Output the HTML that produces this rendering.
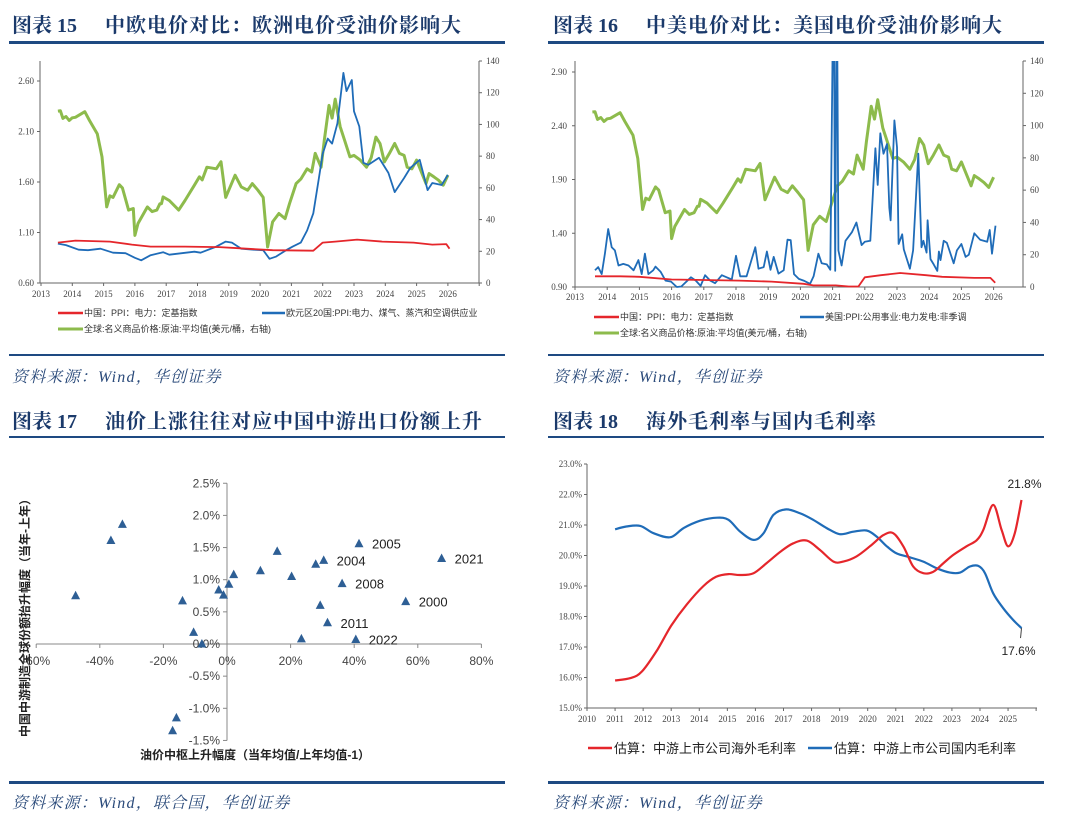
<!DOCTYPE html>
<html><head><meta charset="utf-8">
<style>
html,body{margin:0;padding:0;background:#fff;}
svg{display:block;}
.hdr{font-family:"Liberation Serif","Noto Serif CJK SC",serif;font-weight:bold;font-size:20px;fill:#1b3a6b;}
.hdt{font-family:"Liberation Serif","Noto Serif CJK SC",serif;font-weight:bold;font-size:20px;letter-spacing:1px;fill:#1b3a6b;}
.src{font-family:"Liberation Serif","Noto Serif CJK SC",serif;font-style:italic;font-size:16px;letter-spacing:1.2px;fill:#2a4a7a;}
.tk{font-family:"Liberation Serif","Noto Serif CJK SC",serif;font-size:9px;fill:#444;}
.lg{font-family:"Liberation Sans","Noto Sans CJK SC",sans-serif;font-size:9px;fill:#333;}
.tk17{font-family:"Liberation Sans","Noto Sans CJK SC",sans-serif;font-size:12px;fill:#444;}
.lg18{font-family:"Liberation Sans","Noto Sans CJK SC",sans-serif;font-size:13px;fill:#222;}
</style></head>
<body>
<svg id="root" width="1080" height="829" viewBox="0 0 1080 829" xmlns="http://www.w3.org/2000/svg">
<defs>
<clipPath id="clip16"><rect x="575" y="61" width="448" height="230"/></clipPath>
</defs>
<!-- headers -->
<g><text class="hdr" x="12" y="32">图表 15</text><text class="hdt" x="105" y="32">中欧电价对比：欧洲电价受油价影响大</text></g>
<rect x="9" y="41" width="496" height="3" fill="#1e4a82"/>
<rect x="9" y="354" width="496" height="2" fill="#1e4a82"/>
<text class="src" x="12" y="382">资料来源：Wind，华创证券</text>

<g><text class="hdr" x="553" y="32">图表 16</text><text class="hdt" x="646" y="32">中美电价对比：美国电价受油价影响大</text></g>
<rect x="548" y="41" width="496" height="3" fill="#1e4a82"/>
<rect x="548" y="354" width="496" height="2" fill="#1e4a82"/>
<text class="src" x="553" y="382">资料来源：Wind，华创证券</text>

<g><text class="hdr" x="12" y="428">图表 17</text><text class="hdt" x="105" y="428">油价上涨往往对应中国中游出口份额上升</text></g>
<rect x="9" y="436" width="496" height="2" fill="#1e4a82"/>
<rect x="9" y="781" width="496" height="3" fill="#1e4a82"/>
<text class="src" x="12" y="808">资料来源：Wind，联合国，华创证券</text>

<g><text class="hdr" x="553" y="428">图表 18</text><text class="hdt" x="646" y="428">海外毛利率与国内毛利率</text></g>
<rect x="548" y="436" width="496" height="2" fill="#1e4a82"/>
<rect x="548" y="781" width="496" height="3" fill="#1e4a82"/>
<text class="src" x="553" y="808">资料来源：Wind，华创证券</text>

<g id="c15"></g>
<g id="c16"></g>
<g id="c17"></g>
<g id="c18"></g>
</svg>
<script>
// ---------- data ----------
const oilYears = [2013.54,2013.62,2013.7,2013.8,2013.9,2014.0,2014.1,2014.4,2014.55,2014.8,2014.95,2015.1,2015.2,2015.3,2015.5,2015.6,2015.8,2015.95,2016.0,2016.1,2016.4,2016.55,2016.7,2016.8,2016.85,2016.9,2017.1,2017.4,2017.6,2017.9,2018.06,2018.15,2018.3,2018.6,2018.75,2018.9,2019.2,2019.4,2019.6,2019.75,2019.93,2020.1,2020.24,2020.4,2020.6,2020.8,2020.94,2021.15,2021.3,2021.5,2021.65,2021.76,2021.95,2022.05,2022.2,2022.3,2022.4,2022.56,2022.7,2022.87,2023.0,2023.2,2023.4,2023.55,2023.7,2023.83,2023.97,2024.13,2024.3,2024.45,2024.6,2024.7,2024.85,2025.0,2025.3,2025.4,2025.55,2025.7,2025.85,2026.0];
const oilPrice = [108.4,108.6,103.8,105,102.5,104.2,104.5,108,102.5,94,79.6,48,55,54,62,60,46,47,30,37.5,48,45,46,50,50,54.3,52,46,52,61.7,67,65,73,72,76.5,54,68,60.6,58.5,62.7,58.5,54,22.7,38.5,43.8,40.6,50,62.7,65.5,72,70,81.7,73,90,112,104,116,98.5,90,79.6,80.5,77.5,73,79,92,88,76.4,81.7,88,81.7,80.5,73,72,77.5,62.7,69,67,64.8,61.7,68];

const euYears = [2013.54,2013.8,2014.2,2014.5,2014.9,2015.3,2015.7,2016.0,2016.2,2016.5,2016.9,2017.1,2017.5,2017.9,2018.1,2018.6,2018.9,2019.1,2019.4,2019.8,2020.1,2020.3,2020.5,2020.83,2021.04,2021.3,2021.5,2021.7,2021.87,2022.0,2022.16,2022.3,2022.47,2022.66,2022.76,2022.93,2023.0,2023.17,2023.3,2023.46,2023.8,2024.1,2024.3,2024.6,2024.8,2025.1,2025.35,2025.5,2025.8,2026.0];
const euPPI = [0.99,0.975,0.93,0.925,0.94,0.90,0.895,0.85,0.825,0.875,0.905,0.88,0.895,0.91,0.90,0.96,1.01,1.0,0.94,0.93,0.925,0.84,0.86,0.925,0.96,1.0,1.12,1.29,1.62,1.88,2.03,1.98,2.18,2.68,2.50,2.61,2.30,2.15,1.79,1.77,1.84,1.69,1.50,1.64,1.74,1.82,1.52,1.59,1.57,1.67];

const cnYears15 = [2013.54,2014.1,2015.2,2015.9,2016.5,2017.6,2018.7,2019.3,2020.4,2021.7,2022.0,2022.4,2023.1,2023.9,2024.9,2025.5,2025.95,2026.05];
const cnPPI15 = [1.0,1.02,1.01,0.98,0.96,0.96,0.955,0.945,0.925,0.92,1.0,1.01,1.03,1.01,1.0,0.98,0.985,0.94];

const cnYears16 = [2013.62,2014.4,2015.0,2016.0,2017.0,2018.1,2019.1,2020.1,2020.4,2021.1,2021.5,2021.8,2022.0,2022.5,2023.1,2023.9,2024.4,2025.4,2025.9,2026.05];
const cnPPI16 = [1.0,1.0,0.995,0.97,0.965,0.96,0.95,0.93,0.915,0.915,0.905,0.905,0.99,1.01,1.03,1.01,0.995,0.985,0.985,0.94];

const usYears = [2013.62,2013.72,2013.83,2013.93,2014.03,2014.14,2014.24,2014.35,2014.5,2014.66,2014.82,2014.97,2015.07,2015.17,2015.28,2015.43,2015.5,2015.66,2015.81,2015.98,2016.16,2016.3,2016.6,2016.75,2016.9,2017.04,2017.2,2017.35,2017.56,2017.71,2017.87,2018.0,2018.13,2018.33,2018.6,2018.7,2018.86,2018.96,2019.07,2019.17,2019.32,2019.48,2019.6,2019.7,2019.8,2019.95,2020.1,2020.3,2020.41,2020.56,2020.66,2020.82,2020.93,2021.03,2021.08,2021.13,2021.18,2021.28,2021.4,2021.6,2021.74,2021.9,2022.0,2022.17,2022.33,2022.4,2022.48,2022.58,2022.69,2022.76,2022.8,2022.92,2023.0,2023.05,2023.16,2023.21,2023.4,2023.5,2023.66,2023.76,2023.82,2023.92,2023.95,2024.04,2024.14,2024.25,2024.3,2024.35,2024.45,2024.55,2024.76,2024.86,2025.0,2025.13,2025.23,2025.4,2025.58,2025.8,2025.88,2025.95,2026.06];
const usPPI = [1.055,1.085,1.02,1.21,1.44,1.27,1.24,1.10,1.115,1.10,1.055,1.15,1.02,1.21,1.02,1.055,1.09,1.04,0.96,0.95,0.90,0.905,0.99,0.96,0.91,1.01,0.96,0.935,1.01,0.99,0.97,1.19,1.0,1.0,1.27,1.07,1.085,1.23,1.06,1.18,1.025,1.055,1.34,1.335,1.02,0.975,0.96,0.93,1.0,1.21,1.12,1.11,1.06,4.0,1.05,4.0,1.24,1.1,1.33,1.41,1.5,1.29,1.32,1.33,2.19,1.85,2.33,2.14,2.23,1.64,1.52,2.45,2.2,1.30,1.39,1.25,1.07,1.24,2.14,1.27,1.33,1.22,1.52,1.16,1.11,1.05,1.23,1.15,1.33,1.31,1.12,1.24,1.30,1.18,1.2,1.40,1.34,1.32,1.43,1.21,1.47];

const oilChange = [-47.6,-36.5,-32.9,-14,-10.5,-7.9,-2.6,-1.1,0.6,2.1,10.5,15.8,20.3,23.4,27.9,30.4,29.3,31.6,36.2,41.5,40.5,56.2,67.5,-15.9,-17.1];
const shareChange = [0.75,1.61,1.86,0.67,0.18,0.0,0.84,0.76,0.93,1.08,1.14,1.44,1.05,0.08,1.24,1.30,0.60,0.33,0.94,1.56,0.07,0.66,1.33,-1.15,-1.35];
const pointLabels = ["","","","","","","","","","","","","","","","2004","","2011","2008","2005","2022","2000","2021","",""];

const gmYears = [2011.0,2011.55,2011.96,2012.5,2013.0,2013.56,2014.15,2014.6,2015.04,2015.46,2015.93,2016.4,2016.9,2017.35,2017.83,2018.3,2018.78,2019.13,2019.6,2020.08,2020.56,2020.91,2021.27,2021.62,2021.98,2022.34,2022.7,2023.05,2023.52,2023.88,2024.12,2024.47,2024.77,2025.0,2025.24,2025.48];
const overseasGM = [15.9,15.98,16.2,16.9,17.7,18.4,19.0,19.3,19.39,19.36,19.42,19.75,20.13,20.4,20.49,20.18,19.8,19.8,19.97,20.3,20.67,20.73,20.3,19.64,19.42,19.47,19.75,20.02,20.3,20.5,20.84,21.66,20.84,20.3,20.73,21.82];
const gmYearsD = [2011.0,2011.4,2011.9,2012.37,2012.97,2013.44,2014.03,2014.63,2015.04,2015.46,2015.93,2016.29,2016.64,2017.1,2017.6,2018.06,2018.54,2019.0,2019.49,2019.96,2020.32,2020.68,2021.03,2021.5,2021.98,2022.46,2022.93,2023.29,2023.64,2023.94,2024.18,2024.47,2024.83,2025.18,2025.48];
const domesticGM = [20.86,20.95,20.97,20.73,20.6,20.9,21.14,21.24,21.17,20.78,20.51,20.73,21.33,21.51,21.38,21.17,20.9,20.7,20.78,20.82,20.62,20.3,20.07,19.94,19.8,19.58,19.44,19.44,19.64,19.66,19.42,18.76,18.27,17.89,17.62];

// ---------- helpers ----------
const NS = "http://www.w3.org/2000/svg";
function mk(parent, tag, attrs, text){
  const el = document.createElementNS(NS, tag);
  for (const k in attrs) el.setAttribute(k, attrs[k]);
  if (text !== undefined) el.textContent = text;
  parent.appendChild(el);
  return el;
}
function polyPath(xs, ys, fx, fy){
  return xs.map((x,i)=>(i?"L":"M")+fx(x).toFixed(1)+","+fy(ys[i]).toFixed(1)).join("");
}
function smoothPath(xs, ys, fx, fy){
  const p = xs.map((x,i)=>[fx(x), fy(ys[i])]);
  let d = "M"+p[0][0].toFixed(1)+","+p[0][1].toFixed(1);
  for (let i=0;i<p.length-1;i++){
    const p0=p[Math.max(0,i-1)], p1=p[i], p2=p[i+1], p3=p[Math.min(p.length-1,i+2)];
    const c1=[p1[0]+(p2[0]-p0[0])/6, p1[1]+(p2[1]-p0[1])/6];
    const c2=[p2[0]-(p3[0]-p1[0])/6, p2[1]-(p3[1]-p1[1])/6];
    d += "C"+c1[0].toFixed(1)+","+c1[1].toFixed(1)+" "+c2[0].toFixed(1)+","+c2[1].toFixed(1)+" "+p2[0].toFixed(1)+","+p2[1].toFixed(1);
  }
  return d;
}
const AX = "#666";
const RED = "#e5262b", BLUE = "#1f6cb8", GREEN = "#8dbb4c";

// ---------- chart 15 ----------
(function(){
  const g = document.getElementById("c15");
  const fx = yr => 41 + (yr-2013)*31.3;
  const fyL = v => 283 - (v-0.6)/2*202;
  const fyR = v => 283 - v/140*222;
  let e;
  e = mk(g,"path",{d:"M40,61V283H479M479,61V283",stroke:AX,fill:"none","stroke-width":1});
  
  
  [0.6,1.1,1.6,2.1,2.6].forEach(v=>{
    mk(g,"line",{x1:37,x2:40,y1:fyL(v),y2:fyL(v),stroke:AX});
    e = mk(g,"text",{class:"tk",x:34,y:fyL(v)+3,"text-anchor":"end"},v.toFixed(2));
    
    
  });
  for (let v=0; v<=140; v+=20){
    mk(g,"line",{x1:479,x2:482,y1:fyR(v),y2:fyR(v),stroke:AX});
    e = mk(g,"text",{class:"tk",x:486,y:fyR(v)+3},String(v));
    
    
  }
  for (let y=2013; y<=2027; y++){
    mk(g,"line",{x1:fx(y),x2:fx(y),y1:283,y2:286,stroke:AX});
    if (y<=2026){
      e = mk(g,"text",{class:"tk",x:fx(y),y:297,"text-anchor":"middle"},String(y));
      
      
    }
  }
  e = mk(g,"path",{d:polyPath(oilYears,oilPrice,fx,fyR),stroke:GREEN,"stroke-width":3,fill:"none","stroke-linejoin":"round"});
  
  
  e = mk(g,"path",{d:polyPath(euYears,euPPI,fx,fyL),stroke:BLUE,"stroke-width":1.8,fill:"none","stroke-linejoin":"round"});
  
  
  e = mk(g,"path",{d:polyPath(cnYears15,cnPPI15,fx,fyL),stroke:RED,"stroke-width":1.8,fill:"none","stroke-linejoin":"round"});
  
  
  mk(g,"line",{x1:58,x2:83,y1:313,y2:313,stroke:RED,"stroke-width":2.5});
  e = mk(g,"text",{class:"lg",x:84,y:316},"中国：PPI：电力：定基指数");
  
  
  mk(g,"line",{x1:262,x2:285,y1:313,y2:313,stroke:BLUE,"stroke-width":2.5});
  e = mk(g,"text",{class:"lg",x:286,y:316},"欧元区20国:PPI:电力、煤气、蒸汽和空调供应业");
  
  
  mk(g,"line",{x1:58,x2:83,y1:329,y2:329,stroke:GREEN,"stroke-width":3});
  e = mk(g,"text",{class:"lg",x:84,y:332},"全球:名义商品价格:原油:平均值(美元/桶，右轴)");
  
  
})();

// ---------- chart 16 ----------
(function(){
  const g = document.getElementById("c16");
  const fx = yr => 575 + (yr-2013)*32.2;
  const fyL = v => 287 - (v-0.9)/2*215;
  const fyR = v => 287 - v/140*226;
  let e;
  e = mk(g,"path",{d:"M575,61V287H1023M1023,61V287",stroke:AX,fill:"none"});
  
  
  [0.9,1.4,1.9,2.4,2.9].forEach(v=>{
    mk(g,"line",{x1:572,x2:575,y1:fyL(v),y2:fyL(v),stroke:AX});
    e = mk(g,"text",{class:"tk",x:567,y:fyL(v)+3,"text-anchor":"end"},v.toFixed(2));
    
    
  });
  for (let v=0; v<=140; v+=20){
    mk(g,"line",{x1:1023,x2:1026,y1:fyR(v),y2:fyR(v),stroke:AX});
    e = mk(g,"text",{class:"tk",x:1030,y:fyR(v)+3},String(v));
    
    
  }
  for (let y=2013; y<=2026; y++){
    mk(g,"line",{x1:fx(y),x2:fx(y),y1:287,y2:290,stroke:AX});
    e = mk(g,"text",{class:"tk",x:fx(y),y:300,"text-anchor":"middle"},String(y));
    
    
  }
  e = mk(g,"path",{d:polyPath(oilYears,oilPrice,fx,fyR),stroke:GREEN,"stroke-width":3,fill:"none","stroke-linejoin":"round"});
  
  
  e = mk(g,"path",{d:polyPath(usYears,usPPI,fx,fyL),stroke:BLUE,"stroke-width":1.8,fill:"none","stroke-linejoin":"round","clip-path":"url(#clip16)"});
  
  
  e = mk(g,"path",{d:polyPath(cnYears16,cnPPI16,fx,fyL),stroke:RED,"stroke-width":1.8,fill:"none","stroke-linejoin":"round"});
  
  
  mk(g,"line",{x1:594,x2:619,y1:317,y2:317,stroke:RED,"stroke-width":2.5});
  e = mk(g,"text",{class:"lg",x:620,y:320},"中国：PPI：电力：定基指数");
  
  
  mk(g,"line",{x1:800,x2:824,y1:317,y2:317,stroke:BLUE,"stroke-width":2.5});
  e = mk(g,"text",{class:"lg",x:825,y:320},"美国:PPI:公用事业:电力发电:非季调");
  
  
  mk(g,"line",{x1:594,x2:619,y1:333,y2:333,stroke:GREEN,"stroke-width":3});
  e = mk(g,"text",{class:"lg",x:620,y:336},"全球:名义商品价格:原油:平均值(美元/桶，右轴)");
  
  
})();

// ---------- chart 17 ----------
(function(){
  const g = document.getElementById("c17");
  const fx = v => 227 + v*3.18;
  const fy = v => 644 - v*64.3;
  let e;
  e = mk(g,"path",{d:"M"+fx(-60)+",644H"+fx(80)+"M227,"+fy(2.5)+"V"+fy(-1.5),stroke:"#888",fill:"none"});
  
  
  for (let v=-60; v<=80; v+=20){
    mk(g,"line",{x1:fx(v),x2:fx(v),y1:644,y2:648,stroke:"#888"});
    e = mk(g,"text",{class:"tk17",x:fx(v),y:665,"text-anchor":"middle"},v+"%");
    
    
  }
  for (let v=-1.5; v<=2.5001; v+=0.5){
    mk(g,"line",{x1:223,x2:227,y1:fy(v),y2:fy(v),stroke:"#888"});
    e = mk(g,"text",{class:"tk17",x:220,y:fy(v)+4,"text-anchor":"end"},v.toFixed(1)+"%");
    
    
  }
  oilChange.forEach((xv,i)=>{
    const cx = fx(xv), cy = fy(shareChange[i]);
    e = mk(g,"path",{d:"M"+cx.toFixed(1)+","+(cy-5).toFixed(1)+"L"+(cx+4.5).toFixed(1)+","+(cy+3.5).toFixed(1)+"L"+(cx-4.5).toFixed(1)+","+(cy+3.5).toFixed(1)+"Z",fill:"#2e5f95"});
    
    
    if (pointLabels[i]){
      e = mk(g,"text",{class:"tk17",x:cx+13,y:cy+5,style:"font-size:13px;fill:#222"},pointLabels[i]);
      
      
    }
  });
  e = mk(g,"text",{x:255,y:759,"text-anchor":"middle",style:"font-family:'Liberation Sans','Noto Sans CJK SC',sans-serif;font-weight:bold;font-size:12px;fill:#222"},"油价中枢上升幅度（当年均值/上年均值-1）");
  
  
  e = mk(g,"text",{x:0,y:0,"text-anchor":"middle",transform:"translate(29,615) rotate(-90)",style:"font-family:'Liberation Sans','Noto Sans CJK SC',sans-serif;font-weight:bold;font-size:12px;fill:#222"},"中国中游制造全球份额抬升幅度（当年-上年）");
  
  
})();

// ---------- chart 18 ----------
(function(){
  const g = document.getElementById("c18");
  const fx = yr => 587 + (yr-2010)*28.07;
  const fy = v => 708 - (v-15)*30.5;
  let e;
  e = mk(g,"path",{d:"M587,464V708H1037",stroke:AX,fill:"none"});
  
  
  for (let v=15; v<=23; v++){
    mk(g,"line",{x1:584,x2:587,y1:fy(v),y2:fy(v),stroke:AX});
    e = mk(g,"text",{class:"tk",x:582,y:fy(v)+3,"text-anchor":"end"},v.toFixed(1)+"%");
    
    
  }
  for (let y=2010; y<=2026; y++){
    mk(g,"line",{x1:fx(y),x2:fx(y),y1:708,y2:711,stroke:AX});
    if (y<=2025){
      e = mk(g,"text",{class:"tk",x:fx(y),y:722,"text-anchor":"middle"},String(y));
      
      
    }
  }
  e = mk(g,"path",{d:smoothPath(gmYearsD,domesticGM,fx,fy),stroke:BLUE,"stroke-width":2.2,fill:"none"});
  
  
  e = mk(g,"path",{d:smoothPath(gmYears,overseasGM,fx,fy),stroke:RED,"stroke-width":2.2,fill:"none"});
  
  
  const lastO = overseasGM[overseasGM.length-1], lastD = domesticGM[domesticGM.length-1];
  const lx = fx(gmYears[gmYears.length-1]);
  e = mk(g,"text",{x:lx+3,y:fy(lastO)-12,"text-anchor":"middle",style:"font-family:'Liberation Sans',sans-serif;font-size:12px;fill:#222"},lastO.toFixed(1)+"%");
  
  
  mk(g,"line",{x1:lx,x2:lx-1,y1:fy(lastD),y2:fy(lastD)+10,stroke:"#444"});
  e = mk(g,"text",{x:lx-3,y:fy(lastD)+27,"text-anchor":"middle",style:"font-family:'Liberation Sans',sans-serif;font-size:12px;fill:#222"},lastD.toFixed(1)+"%");
  
  
  mk(g,"line",{x1:588,x2:612,y1:748,y2:748,stroke:RED,"stroke-width":2.5});
  e = mk(g,"text",{class:"lg18",x:614,y:753},"估算：中游上市公司海外毛利率");
  
  
  mk(g,"line",{x1:808,x2:832,y1:748,y2:748,stroke:BLUE,"stroke-width":2.5});
  e = mk(g,"text",{class:"lg18",x:834,y:753},"估算：中游上市公司国内毛利率");
  
  
})();
</script>
</body></html>
